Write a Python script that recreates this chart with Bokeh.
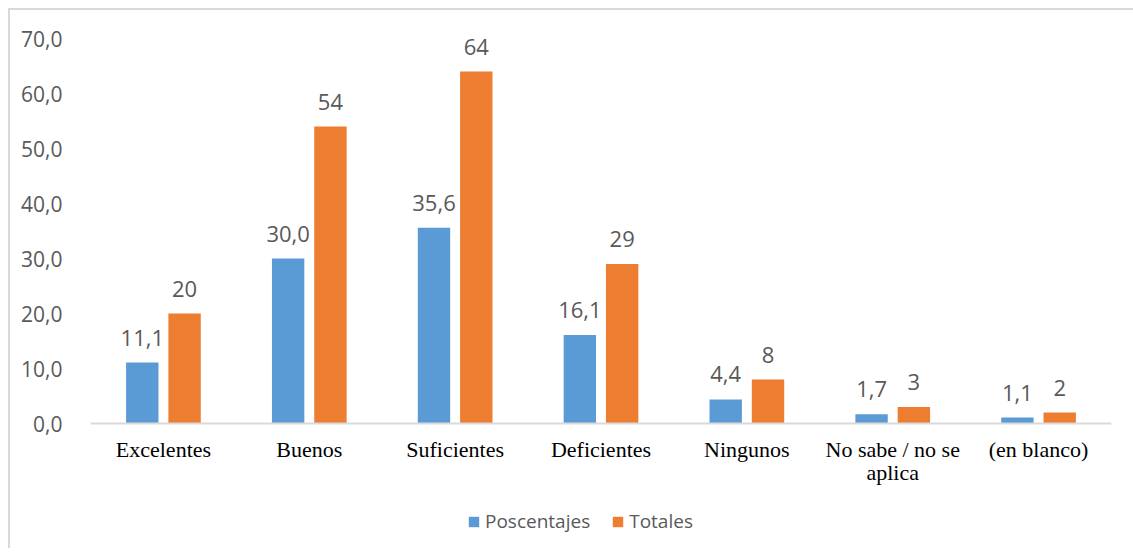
from bokeh.plotting import figure
from bokeh.models import (ColumnDataSource, Legend, LegendItem, FactorRange, FixedTicker,
                          CustomJSTickFormatter, Range1d)
from bokeh.transform import dodge
from bokeh.embed import file_html
from bokeh.resources import INLINE
from bokeh.core.properties import value

categories = ["Excelentes", "Buenos", "Suficientes", "Deficientes", "Ningunos",
              "No sabe / no se\naplica", "(en blanco)"]
porcentajes = [11.1, 30.0, 35.6, 16.1, 4.4, 1.7, 1.1]
totales = [20, 54, 64, 29, 8, 3, 2]
y_ticks = [0, 10, 20, 30, 40, 50, 60, 70]
series_names = ["Poscentajes", "Totales"]
colors = ["#5B9BD5", "#ED7D31"]

src = ColumnDataSource(dict(
    cat=categories,
    pct=porcentajes,
    tot=totales,
    pct_lbl=[f"{v:.1f}".replace(".", ",") for v in porcentajes],
    tot_lbl=[str(v) for v in totales],
))

p = figure(frame_width=1021, frame_height=510, x_range=FactorRange(*categories, range_padding=0),
           y_range=Range1d(-22.7, 70), output_backend="svg", toolbar_location=None,
           min_border_left=80, min_border_right=22, min_border_top=28, min_border_bottom=0)
p.styles = {"border-top": "2px solid #d9d9d9", "border-left": "2px solid #d9d9d9",
            "margin-left": "8px", "margin-top": "8px"}
p.outline_line_color = None
p.xgrid.visible = False
p.ygrid.visible = False

off = 0.145
bw = 0.222
r1 = p.vbar(x=dodge("cat", -off, range=p.x_range), top="pct", bottom=0, width=bw, source=src,
            fill_color=colors[0], line_color=None)
r2 = p.vbar(x=dodge("cat", off, range=p.x_range), top="tot", bottom=0, width=bw, source=src,
            fill_color=colors[1], line_color=None)

lbl_font = value("Open Sans")
p.text(x=dodge("cat", -off, range=p.x_range), y="pct", text="pct_lbl", source=src,
       text_align="center", text_baseline="bottom", y_offset=-17,
       text_font=lbl_font, text_font_size="22px", text_color="#595959")
p.text(x=dodge("cat", off, range=p.x_range), y="tot", text="tot_lbl", source=src,
       text_align="center", text_baseline="bottom", y_offset=-17,
       text_font=lbl_font, text_font_size="22px", text_color="#595959")

# y axis
p.yaxis.ticker = FixedTicker(ticks=y_ticks)
p.yaxis.formatter = CustomJSTickFormatter(code="return tick.toFixed(1).replace('.', ',');")
p.yaxis.axis_line_color = None
p.yaxis.major_tick_line_color = None
p.yaxis.minor_tick_line_color = None
p.yaxis.major_label_standoff = 22
p.yaxis.major_label_text_font = "Open Sans"
p.yaxis.major_label_text_font_size = "21px"
p.yaxis.major_label_text_color = "#595959"

# x axis (drawn at y = 0)
p.xaxis.fixed_location = 0
p.xaxis.axis_line_color = "#d9d9d9"
p.xaxis.axis_line_width = 2
p.xaxis.major_tick_line_color = None
p.xaxis.minor_tick_line_color = None
p.xaxis.major_label_standoff = 7
p.xaxis.major_label_text_font = "Liberation Serif"
p.xaxis.major_label_text_font_size = "22px"
p.xaxis.major_label_text_line_height = 0.93
p.xaxis.major_label_text_color = "#000000"

legend = Legend(items=[LegendItem(label=series_names[0], renderers=[r1]),
                       LegendItem(label=series_names[1], renderers=[r2])],
                orientation="horizontal", location=(377, 14),
                label_text_font="Open Sans", label_text_font_size="19px",
                label_text_color="#595959", glyph_width=13, glyph_height=13,
                spacing=21, label_standoff=5, border_line_color=None,
                background_fill_alpha=0, padding=0, margin=0)
p.add_layout(legend, "center")

open("out.html", "w").write(file_html(p, INLINE))
